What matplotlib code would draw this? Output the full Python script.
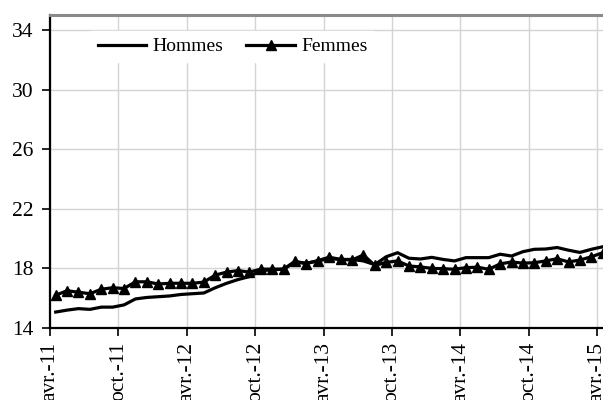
import matplotlib
matplotlib.use("Agg")
import matplotlib.pyplot as plt
import numpy as np

# Monthly series, April 2011 -> April 2015
hommes = [15.07, 15.2, 15.3, 15.25, 15.4, 15.4, 15.55, 15.95, 16.05, 16.1,
          16.15, 16.25, 16.3, 16.35, 16.7, 17.0, 17.25, 17.45, 17.85, 17.9,
          17.95, 18.4, 18.35, 18.5, 18.65, 18.6, 18.6, 18.5, 18.25, 18.78,
          19.05, 18.68, 18.63, 18.74, 18.6, 18.5, 18.72, 18.72, 18.72, 18.95,
          18.83, 19.12, 19.28, 19.3, 19.4, 19.22, 19.07, 19.28, 19.45]
femmes = [16.2, 16.5, 16.4, 16.3, 16.6, 16.7, 16.65, 17.1, 17.1, 16.95,
          17.0, 17.0, 17.0, 17.08, 17.55, 17.75, 17.85, 17.75, 17.95, 17.95,
          17.95, 18.48, 18.32, 18.52, 18.75, 18.6, 18.56, 18.9, 18.2, 18.4,
          18.5, 18.16, 18.1, 18.0, 17.98, 17.94, 18.05, 18.08, 17.94, 18.3,
          18.43, 18.35, 18.38, 18.5, 18.65, 18.43, 18.56, 18.78, 19.05]
tick_labels = ["avr.-11", "oct.-11", "avr.-12", "oct.-12", "avr.-13",
               "oct.-13", "avr.-14", "oct.-14", "avr.-15"]
y_ticks = [14, 18, 22, 26, 30, 34]

plt.rcParams['font.family'] = ['Liberation Serif', 'DejaVu Serif']

fig = plt.figure(figsize=(6.03, 4.0), dpi=100)
ax = fig.add_axes([50 / 603, 1 - 328 / 400, (608.4 - 50) / 603, 313 / 400])

x = np.arange(len(hommes))
ax.plot(x, hommes, color='black', lw=2.3, label='Hommes', zorder=3)
ax.plot(x, femmes, color='black', lw=2.3, marker='^', markersize=6.5,
        label='Femmes', zorder=3)

ax.set_xlim(-0.5, 48.5)
ax.set_ylim(14, 35)
ax.set_yticks(y_ticks)
ax.set_yticklabels([str(v) for v in y_ticks], fontsize=15.5)
tick_pos = [-0.5 + 6 * i for i in range(len(tick_labels))]
ax.set_xticks(tick_pos)
ax.set_xticklabels(tick_labels, rotation=90, fontsize=15.5, va='top', ha='center')

ax.grid(True, color='#d4d4d4', lw=1.0, zorder=0)
ax.set_axisbelow(True)

ax.spines['left'].set_color('black')
ax.spines['left'].set_linewidth(1.6)
ax.spines['bottom'].set_color('black')
ax.spines['bottom'].set_linewidth(1.6)
ax.spines['top'].set_color('#8a8a8a')
ax.spines['top'].set_linewidth(2.2)
ax.spines['right'].set_visible(False)
ax.tick_params(axis='both', direction='out', length=6, width=1.2, color='black')
ax.tick_params(axis='y', pad=6)
ax.tick_params(axis='x', pad=4)

leg = ax.legend(loc='upper left', bbox_to_anchor=(41 / 558.4, 1 - 16 / 313),
                ncol=2, fontsize=14, frameon=True, fancybox=False,
                handlelength=2.5, handletextpad=0.3, columnspacing=1.2,
                borderpad=0.35, borderaxespad=0)
leg.get_frame().set_facecolor('white')
leg.get_frame().set_edgecolor('white')
leg.get_frame().set_alpha(1.0)

fig.savefig('out.png', dpi=100)
